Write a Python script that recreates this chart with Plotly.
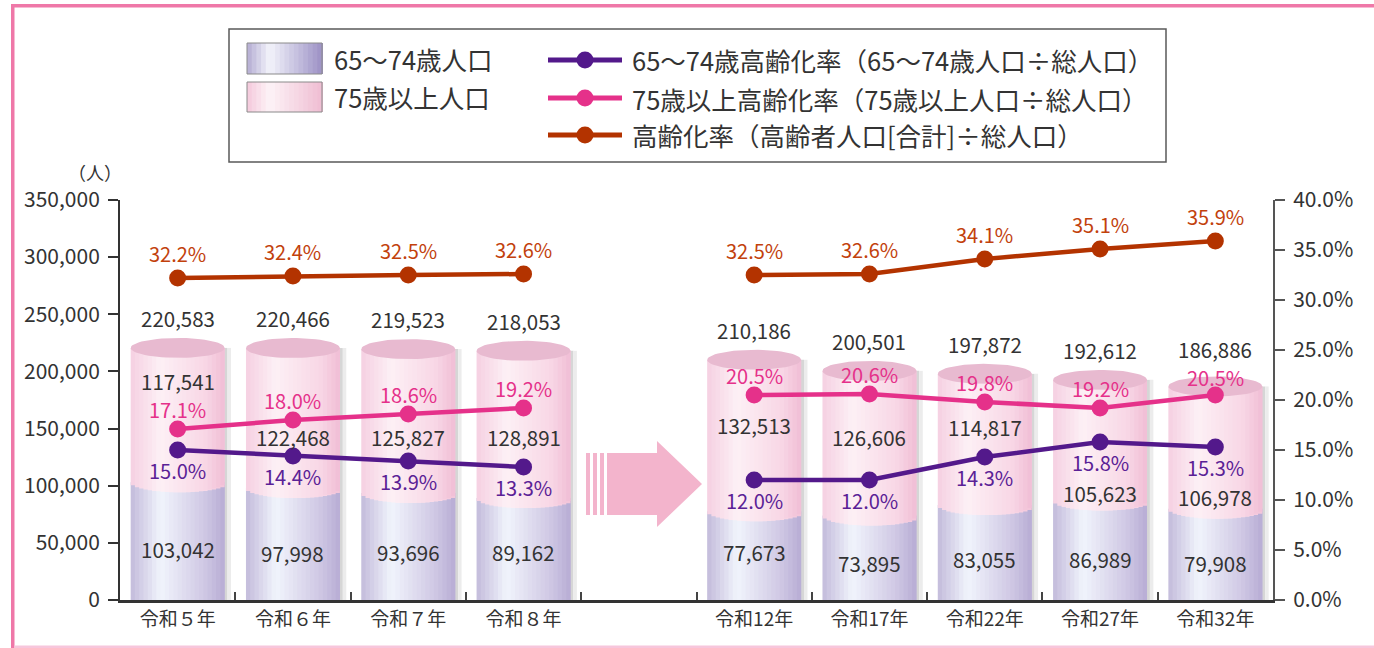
import numpy as np
import plotly.graph_objects as go

# ---------------- data ----------------
categories = ["令和５年", "令和６年", "令和７年", "令和８年",
              "令和12年", "令和17年", "令和22年", "令和27年", "令和32年"]
pop_65_74 = [103042, 97998, 93696, 89162, 77673, 73895, 83055, 86989, 79908]
pop_75_over = [117541, 122468, 125827, 128891, 132513, 126606, 114817, 105623, 106978]
pop_total = [220583, 220466, 219523, 218053, 210186, 200501, 197872, 192612, 186886]
rate_65_74 = [15.0, 14.4, 13.9, 13.3, 12.0, 12.0, 14.3, 15.8, 15.3]
rate_75_over = [17.1, 18.0, 18.6, 19.2, 20.5, 20.6, 19.8, 19.2, 20.5]
rate_total = [32.2, 32.4, 32.5, 32.6, 32.5, 32.6, 34.1, 35.1, 35.9]

legend_bar_names = ["65～74歳人口", "75歳以上人口"]
legend_line_names = ["65～74歳高齢化率（65～74歳人口÷総人口）",
                     "75歳以上高齢化率（75歳以上人口÷総人口）",
                     "高齢化率（高齢者人口[合計]÷総人口）"]

# ---------------- layout / style ----------------
GAP_AFTER = 4                      # empty slot (arrow) after the 4th category
slots = [i if i < GAP_AFTER else i + 1 for i in range(len(categories))]
line_x = slots[:GAP_AFTER] + [GAP_AFTER] + slots[GAP_AFTER:]

def with_gap(vals):
    return list(vals[:GAP_AFTER]) + [None] + list(vals[GAP_AFTER:])

# label anchor heights (population units) for segment labels
lav_label_y = [45000, 41000, 42000, 42000, 42000, 32000, 36000, 36000, 32000]
pink_label_y = [191600, 142600, 142600, 142600, 153100, 142600, 151400, 94000, 90500]
# extra lift (px) for total labels
total_label_lift = [30, 30, 30, 30, 30, 30, 30, 30, 37]
# shift (px) for the 75+ rate labels
pink_rate_shift = [20, 20, 20, 20, 20, 20, 20, 20, 18]

FONT = "Noto Sans CJK JP"
TXT = "#333333"
C_TOTAL = "#b33300"
C_TOTAL_T = "#c2410c"
C_PINK = "#e5318a"
C_PURP = "#53198b"
C_PURP_T = "#5a2196"

W = 0.815          # bar width in slot units
NSTRIP = 22
ELL_H = 8750       # ellipse half-height (population units)

# plot area pixels
PX_L, PX_R, PX_T, PX_B = 120, 1273, 200, 600
def px_x(px):
    return (px - PX_L) / (PX_R - PX_L)
def px_y(py):
    return (PX_B - py) / (PX_B - PX_T)
SLOT_PX = (PX_R - PX_L) / 10.0
def dx(px):  # pixel x -> x data
    return (px - PX_L) / SLOT_PX - 0.5
def dy(py):  # pixel y -> y data
    return (PX_B - py) * 350000 / (PX_B - PX_T)

def hex2rgb(h):
    h = h.lstrip("#")
    return [int(h[i:i + 2], 16) for i in (0, 2, 4)]

def grad(stops, t):
    for (t0, c0), (t1, c1) in zip(stops[:-1], stops[1:]):
        if t0 <= t <= t1:
            a = (t - t0) / (t1 - t0) if t1 > t0 else 0
            r0, r1 = hex2rgb(c0), hex2rgb(c1)
            return "rgb(%d,%d,%d)" % tuple(round(r0[i] + (r1[i] - r0[i]) * a) for i in range(3))
    return stops[-1][1]

LAV_STOPS = [(0, "#c3bbdb"), (0.32, "#f1f4fc"), (0.8, "#cec6e3"), (1, "#b7acd4")]
PINK_STOPS = [(0, "#f6d0e2"), (0.32, "#fdf0f5"), (0.8, "#f8d6e5"), (1, "#f0bdd5")]
CAP_COLOR = "#e8bad0"

fig = go.Figure()

# bar shadows
for off, wd, col in [(W / 2 - 0.005, 0.03, "#d6d6d6"), (W / 2 + 0.025, 0.03, "#ececec")]:
    fig.add_trace(go.Bar(x=slots, y=pop_total, base=0, offset=off, width=wd,
                         marker=dict(color=col, line=dict(width=0)),
                         hoverinfo="skip", showlegend=False))

def strip_geom(k):
    off = -W / 2 + k * W / NSTRIP
    wd = min(W / NSTRIP * 2.0, W / 2 - off)   # overlap the next strip to hide seams
    return off, wd

# lavender strips
for k in range(NSTRIP):
    t = (k + 0.5) / NSTRIP
    off, wd = strip_geom(k)
    fig.add_trace(go.Bar(x=slots, y=pop_65_74, base=0, offset=off, width=wd,
                         marker=dict(color=grad(LAV_STOPS, t), line=dict(width=0)),
                         name=legend_bar_names[0], hoverinfo="skip", showlegend=False))

# pink strips (bottom follows lower half of an ellipse)
for k in range(NSTRIP):
    t = (k + 0.5) / NSTRIP
    u = 2 * t - 1
    s = np.sqrt(max(0.0, 1 - u * u))
    off, wd = strip_geom(k)
    base = [v - ELL_H * s for v in pop_65_74]
    top = [a + b for a, b in zip(pop_65_74, pop_75_over)]
    fig.add_trace(go.Bar(x=slots, y=[tp - b for tp, b in zip(top, base)], base=base,
                         offset=off, width=wd,
                         marker=dict(color=grad(PINK_STOPS, t), line=dict(width=0)),
                         name=legend_bar_names[1], hoverinfo="skip", showlegend=False))

# top caps (ellipses)
th = np.linspace(0, 2 * np.pi, 60)
ex, ey = [], []
for s_, tot in zip(slots, pop_total):
    ex += list(s_ + W / 2 * np.cos(th)) + [None]
    ey += list(tot + ELL_H * np.sin(th)) + [None]
fig.add_trace(go.Scatter(x=ex, y=ey, mode="lines", fill="toself", fillcolor=CAP_COLOR,
                         line=dict(width=0, color=CAP_COLOR), hoverinfo="skip",
                         showlegend=False, connectgaps=False))

# rate lines
for vals, col, nm in [(rate_total, C_TOTAL, legend_line_names[2]),
                      (rate_75_over, C_PINK, legend_line_names[1]),
                      (rate_65_74, C_PURP, legend_line_names[0])]:
    fig.add_trace(go.Scatter(x=line_x, y=with_gap(vals), yaxis="y2", mode="lines+markers",
                             line=dict(color=col, width=4.5), marker=dict(color=col, size=17),
                             connectgaps=False, name=nm, showlegend=False, hoverinfo="skip"))

ann = []
def label(x, y, text, color=TXT, yref="y", yshift=0, size=20.5):
    ann.append(dict(x=x, y=y, xref="x", yref=yref, text=text, showarrow=False,
                    xanchor="center", yanchor="middle", borderpad=0,
                    yshift=yshift, font=dict(family=FONT, size=size, color=color)))

for i, s_ in enumerate(slots):
    label(s_, pop_total[i], f"{pop_total[i]:,}", yshift=total_label_lift[i])
    label(s_, lav_label_y[i], f"{pop_65_74[i]:,}")
    label(s_, pink_label_y[i], f"{pop_75_over[i]:,}")
    label(s_, rate_total[i], f"{rate_total[i]:.1f}%", C_TOTAL_T, "y2", 25, 20)
    label(s_, rate_75_over[i], f"{rate_75_over[i]:.1f}%", C_PINK, "y2", pink_rate_shift[i], 20)
    label(s_, rate_65_74[i], f"{rate_65_74[i]:.1f}%", C_PURP_T, "y2", -20, 20)

# axis unit
ann.append(dict(x=px_x(95), y=px_y(172), xref="paper", yref="paper", text="（人）",
                xanchor="center", yanchor="middle",
                showarrow=False, font=dict(family=FONT, size=18, color=TXT)))

shapes = []
# frame
shapes.append(dict(type="rect", xref="paper", yref="paper", x0=px_x(11), x1=px_x(1374),
                   y0=px_y(7.5), y1=px_y(4), fillcolor="#ef78a8", line=dict(width=0), layer="below"))
shapes.append(dict(type="rect", xref="paper", yref="paper", x0=px_x(11), x1=px_x(14.5),
                   y0=px_y(648), y1=px_y(4), fillcolor="#ef78a8", line=dict(width=0), layer="below"))
shapes.append(dict(type="rect", xref="paper", yref="paper", x0=px_x(14.5), x1=px_x(1374),
                   y0=px_y(648), y1=px_y(645.5), fillcolor="#f7c6dc", line=dict(width=0), layer="below"))

# arrow between the two periods
arrow_col = "#f3b4cc"
for a, b in [(586, 590), (593, 597), (600, 604)]:
    shapes.append(dict(type="rect", xref="x", yref="y", x0=dx(a), x1=dx(b),
                       y0=dy(515), y1=dy(453), fillcolor=arrow_col, line=dict(width=0)))
pts = [(607, 453), (657, 453), (657, 441), (702, 484), (657, 527), (657, 515), (607, 515)]
path = "M " + " L ".join(f"{dx(p):.4f},{dy(q):.1f}" for p, q in pts) + " Z"
shapes.append(dict(type="path", xref="x", yref="y", path=path, fillcolor=arrow_col,
                   line=dict(width=0)))

# legend box
shapes.append(dict(type="rect", xref="paper", yref="paper", x0=px_x(229), x1=px_x(1166),
                   y0=px_y(162), y1=px_y(29), fillcolor="white",
                   line=dict(color="#5a5a5a", width=1.5)))
LEG_LAV = [(0, "#b3abd2"), (0.3, "#f3f4fb"), (1, "#9c91c5")]
LEG_PINK = [(0, "#f4c9db"), (0.3, "#fdf3f7"), (1, "#efbdd2")]
LEG_SIZE = 25.5
for (y0, y1), stops, nm in [((43, 74), LEG_LAV, legend_bar_names[0]),
                            ((82, 112), LEG_PINK, legend_bar_names[1])]:
    n = 16
    for k in range(n):
        xa = 247 + (322 - 247) * k / n
        xb = 247 + (322 - 247) * (k + 1) / n
        shapes.append(dict(type="rect", xref="paper", yref="paper", x0=px_x(xa), x1=px_x(xb + 1),
                           y0=px_y(y1), y1=px_y(y0), fillcolor=grad(stops, (k + 0.5) / n),
                           line=dict(width=0)))
    shapes.append(dict(type="rect", xref="paper", yref="paper", x0=px_x(247), x1=px_x(322),
                       y0=px_y(y1), y1=px_y(y0), line=dict(color="#8a8a8a", width=1)))
    ann.append(dict(x=px_x(332), y=px_y((y0 + y1) / 2), xref="paper", yref="paper", text=nm,
                    xanchor="left", yanchor="middle", showarrow=False,
                    font=dict(family=FONT, size=LEG_SIZE, color=TXT)))

for yy, col, nm in [(60, C_PURP, legend_line_names[0]), (98, C_PINK, legend_line_names[1]),
                    (135, C_TOTAL, legend_line_names[2])]:
    shapes.append(dict(type="line", xref="paper", yref="paper", x0=px_x(548), x1=px_x(622),
                       y0=px_y(yy), y1=px_y(yy), line=dict(color=col, width=5)))
    shapes.append(dict(type="circle", xref="paper", yref="paper", x0=px_x(576.5), x1=px_x(593.5),
                       y0=px_y(yy + 8.5), y1=px_y(yy - 8.5), fillcolor=col, line=dict(width=0)))
    ann.append(dict(x=px_x(630), y=px_y(yy), xref="paper", yref="paper", text=nm,
                    xanchor="left", yanchor="middle", showarrow=False,
                    font=dict(family=FONT, size=LEG_SIZE, color=TXT)))

fig.update_layout(
    width=1374, height=648,
    margin=dict(l=PX_L, r=1374 - PX_R, t=PX_T, b=648 - PX_B, pad=0),
    paper_bgcolor="white", plot_bgcolor="white",
    barmode="overlay", showlegend=False,
    font=dict(family=FONT, color=TXT),
    xaxis=dict(range=[-0.5, 9.5], tickmode="array", tickvals=slots, ticktext=categories,
               ticks="", showgrid=False, zeroline=False, showline=True,
               linecolor="#333333", linewidth=2.5,
               tickfont=dict(family=FONT, size=19, color=TXT),
               minor=dict(tickmode="array", tickvals=[i + 0.5 for i in range(9)],
                          ticks="inside", ticklen=8, tickwidth=1.5, tickcolor="#444444")),
    yaxis=dict(range=[0, 350000], tickmode="array", tickvals=list(range(0, 350001, 50000)),
               tickformat=",", ticks="outside", ticklen=10, tickwidth=1.5, tickcolor="#333333",
               showline=True, linecolor="#333333", linewidth=2, showgrid=False, zeroline=False,
               tickfont=dict(family=FONT, size=21, color=TXT), ticklabelstandoff=4),
    yaxis2=dict(range=[0, 40], overlaying="y", side="right", tickmode="array",
                tickvals=[i * 5 for i in range(9)], ticktext=[f"{i * 5:.1f}%" for i in range(9)],
                ticks="outside", ticklen=10, tickwidth=1.5, tickcolor="#555555",
                showline=True, linecolor="#555555", linewidth=2, showgrid=False, zeroline=False,
                tickfont=dict(family=FONT, size=21, color=TXT), ticklabelstandoff=4),
    shapes=shapes, annotations=ann,
)

fig.write_html("out.html", config={"displayModeBar": False},
               post_script="document.body.style.margin='0px';document.body.style.overflow='hidden';")
